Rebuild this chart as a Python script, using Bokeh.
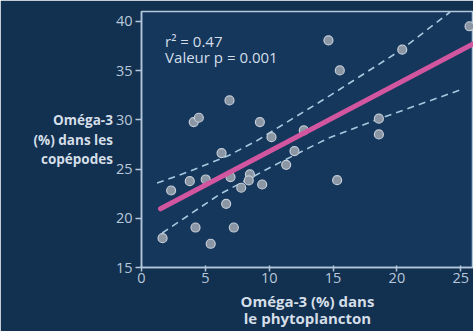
from bokeh.plotting import figure
from bokeh.models import Label, FixedTicker
from bokeh.embed import file_html
from bokeh.resources import INLINE

# Data
phyto = [25.69, 14.64, 20.42, 15.53, 6.89, 4.09, 4.49, 9.27, 18.59, 18.59, 12.71, 10.18,
         6.27, 11.98, 11.33, 2.32, 3.78, 5.03, 6.97, 8.49, 8.40, 7.81, 9.45, 6.63,
         4.23, 7.23, 1.65, 5.42, 15.32]
cope = [39.5, 38.07, 37.12, 35.02, 31.97, 29.77, 30.21, 29.77, 30.11, 28.52, 28.92, 28.24,
        26.62, 26.82, 25.43, 22.82, 23.77, 23.94, 24.18, 24.45, 23.84, 23.10, 23.43, 21.47,
        19.06, 19.06, 17.98, 17.41, 23.87]

fit_x = [1.49, 26.0]
fit_y = [20.96, 37.73]

upper_x = [1.22, 3.83, 6.83, 9.06, 14.81, 20.28, 24.17]
upper_y = [23.57, 24.8, 26.38, 27.9, 32.5, 37.05, 40.95]
lower_x = [1.62, 6.19, 10.88, 14.54, 18.59, 25.24]
lower_y = [18.5, 22.49, 25.7, 28.08, 30.1, 33.16]

x_ticks = [0, 5, 10, 15, 20, 25]
y_ticks = [15, 20, 25, 30, 35, 40]

stats = ["r² = 0.47", "Valeur p = 0.001"]
y_title = "Oméga-3\n(%) dans les\ncopépodes"
x_title = "Oméga-3 (%) dans\nle phytoplancton"

BG = "#15375c"
AX = "#b4c8dc"
TXT = "#d4dee8"
FONT = "Open Sans"

p = figure(width=473, height=331, output_backend="svg", toolbar_location=None,
           x_range=(0, 26.0), y_range=(15, 41.0),
           min_border_left=141, min_border_right=0, min_border_top=11, min_border_bottom=64)
p.background_fill_color = BG
p.border_fill_color = "#12304f"
p.outline_line_color = AX
p.outline_line_width = 1.5
p.grid.visible = False

for ax in (p.xaxis[0], p.yaxis[0]):
    ax.axis_line_color = AX
    ax.axis_line_width = 1.5
    ax.major_tick_line_color = AX
    ax.major_tick_line_width = 1.5
    ax.minor_tick_line_color = None
    ax.major_label_text_color = "#b8c8da"
    ax.major_label_text_font = FONT
    ax.major_label_text_font_size = "14.5px"
    ax.axis_label_text_color = TXT
    ax.axis_label_text_font = FONT
    ax.axis_label_text_font_style = "bold"
p.xaxis.ticker = FixedTicker(ticks=x_ticks)
p.yaxis.ticker = FixedTicker(ticks=y_ticks)
p.xaxis.major_tick_in = 2
p.xaxis.major_tick_out = 4
p.yaxis.major_tick_in = 0
p.yaxis.major_tick_out = 6
p.yaxis.major_label_standoff = 3
p.xaxis.major_label_standoff = 1

p.xaxis.axis_label = x_title
p.xaxis.axis_label_text_font_size = "15px"
p.xaxis.axis_label_standoff = 5
p.xaxis.axis_label_text_line_height = 0.86
p.yaxis.axis_label = y_title
p.yaxis.axis_label_text_font_size = "13.5px"
p.yaxis.axis_label_orientation = "horizontal"
p.yaxis.axis_label_standoff = 0
p.yaxis.axis_label_text_line_height = 1.1

p.line(upper_x, upper_y, line_color="#a8c8e0", line_width=1.6, line_dash="7 5")
p.line(lower_x, lower_y, line_color="#a8c8e0", line_width=1.6, line_dash="7 5")
p.scatter(phyto, cope, size=9, fill_color="#8a96a4", line_color="#c4ccd6", line_width=1.2)
p.line(fit_x, fit_y, line_color="#d2559f", line_width=5, line_cap="round")

for i, t in enumerate(stats):
    p.add_layout(Label(x=1.85, y=38.0 - i * 1.63, text=t, text_color=TXT, text_font=FONT,
                       text_font_size="15px", text_baseline="alphabetic"))

template = """{% extends "file.html" %}
{% block preamble %}<style>html, body { background: #12304f; }</style>{% endblock %}
"""
try:
    html = file_html(p, INLINE, template=template)
except Exception:
    html = file_html(p, INLINE)
open("out.html", "w").write(html)
